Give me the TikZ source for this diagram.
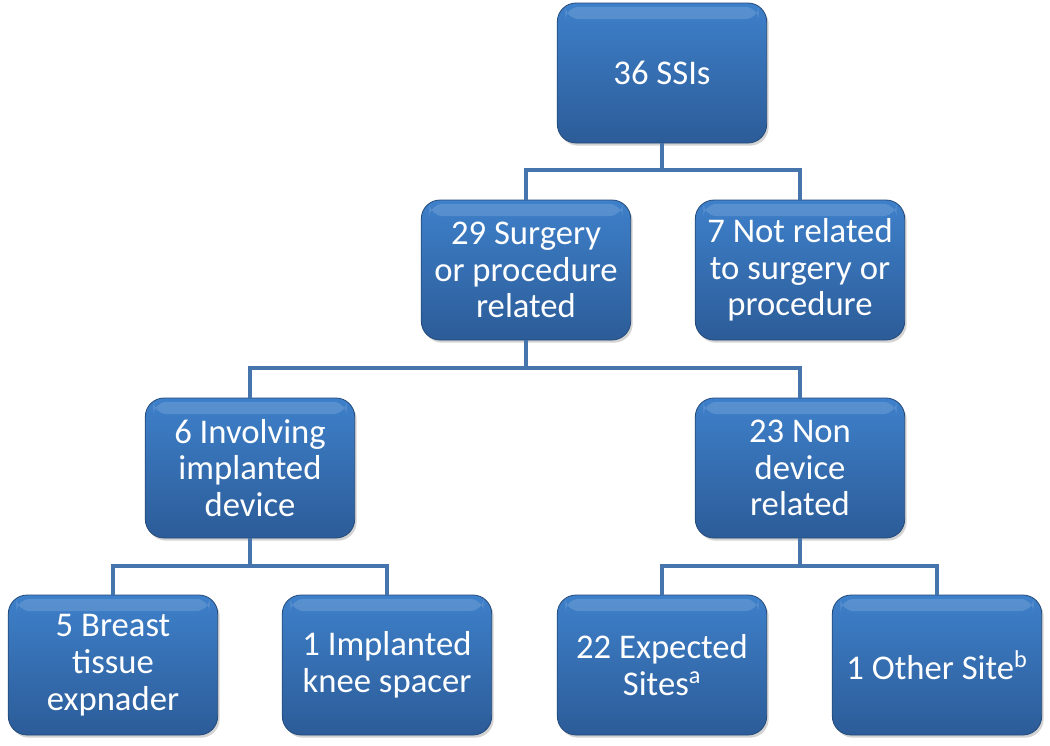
\documentclass[tikz,border=0pt]{standalone}
\usepackage{fontspec}
\setmainfont{Carlito}
\usetikzlibrary{shadows}

\definecolor{boxtop}{RGB}{62,128,202}
\definecolor{boxbot}{RGB}{44,92,152}
\definecolor{linkblue}{RGB}{70,116,172}

\tikzset{
  ssibox/.style={rounded corners=14pt, minimum width=157pt, minimum height=105pt,
    top color=boxtop, bottom color=boxbot, draw=boxbot!80!black, line width=0.6pt,
    drop shadow={shadow xshift=1.5pt, shadow yshift=-2pt, opacity=0.35},
    text=white, align=center, font=\fontsize{26}{27.5}\selectfont,
    path picture={\fill[white, opacity=0.14, rounded corners=10pt]
      ([xshift=6pt,yshift=-3pt]path picture bounding box.north west) rectangle
      ([xshift=-6pt,yshift=-12pt]path picture bounding box.north east);}},
  link/.style={draw=linkblue, line width=3pt}
}

\begin{document}
\begin{tikzpicture}[x=0.75pt, y=-0.75pt]
    % frame
    \useasboundingbox (0,0) rectangle (1050,746);

    % boxes
    \node[ssibox] (all) at (662,73) {36 SSIs};
    \node[ssibox] (surg) at (526,270) {29 Surgery\\or procedure\\related};
    \node[ssibox] (nots) at (800,270) {7 Not related\\to surgery or\\procedure};
    \node[ssibox] (impl) at (250,468) {6 Involving\\implanted\\device};
    \node[ssibox] (nond) at (800,468) {23 Non\\device\\related};
    \node[ssibox] (brst) at (113,665) {5 Breast\\tissue\\expnader};
    \node[ssibox] (knee) at (387,665) {1 Implanted\\knee spacer};
    \node[ssibox] (expt) at (662,665) {22 Expected\\Sites\textsuperscript{a}};
    \node[ssibox] (othr) at (937,665) {1 Other Site\textsuperscript{b}};

    % junctions
    \coordinate (j1) at (662,170);
    \coordinate (j2) at (526,368);
    \coordinate (j3) at (250,566);
    \coordinate (j4) at (800,566);

    % connectors
    \draw[link] (all.south) -- (j1);
    \draw[link] (surg.north) |- (j1) -| (nots.north);
    \draw[link] (surg.south) -- (j2);
    \draw[link] (impl.north) |- (j2) -| (nond.north);
    \draw[link] (impl.south) -- (j3);
    \draw[link] (brst.north) |- (j3) -| (knee.north);
    \draw[link] (nond.south) -- (j4);
    \draw[link] (expt.north) |- (j4) -| (othr.north);
\end{tikzpicture}
\end{document}
